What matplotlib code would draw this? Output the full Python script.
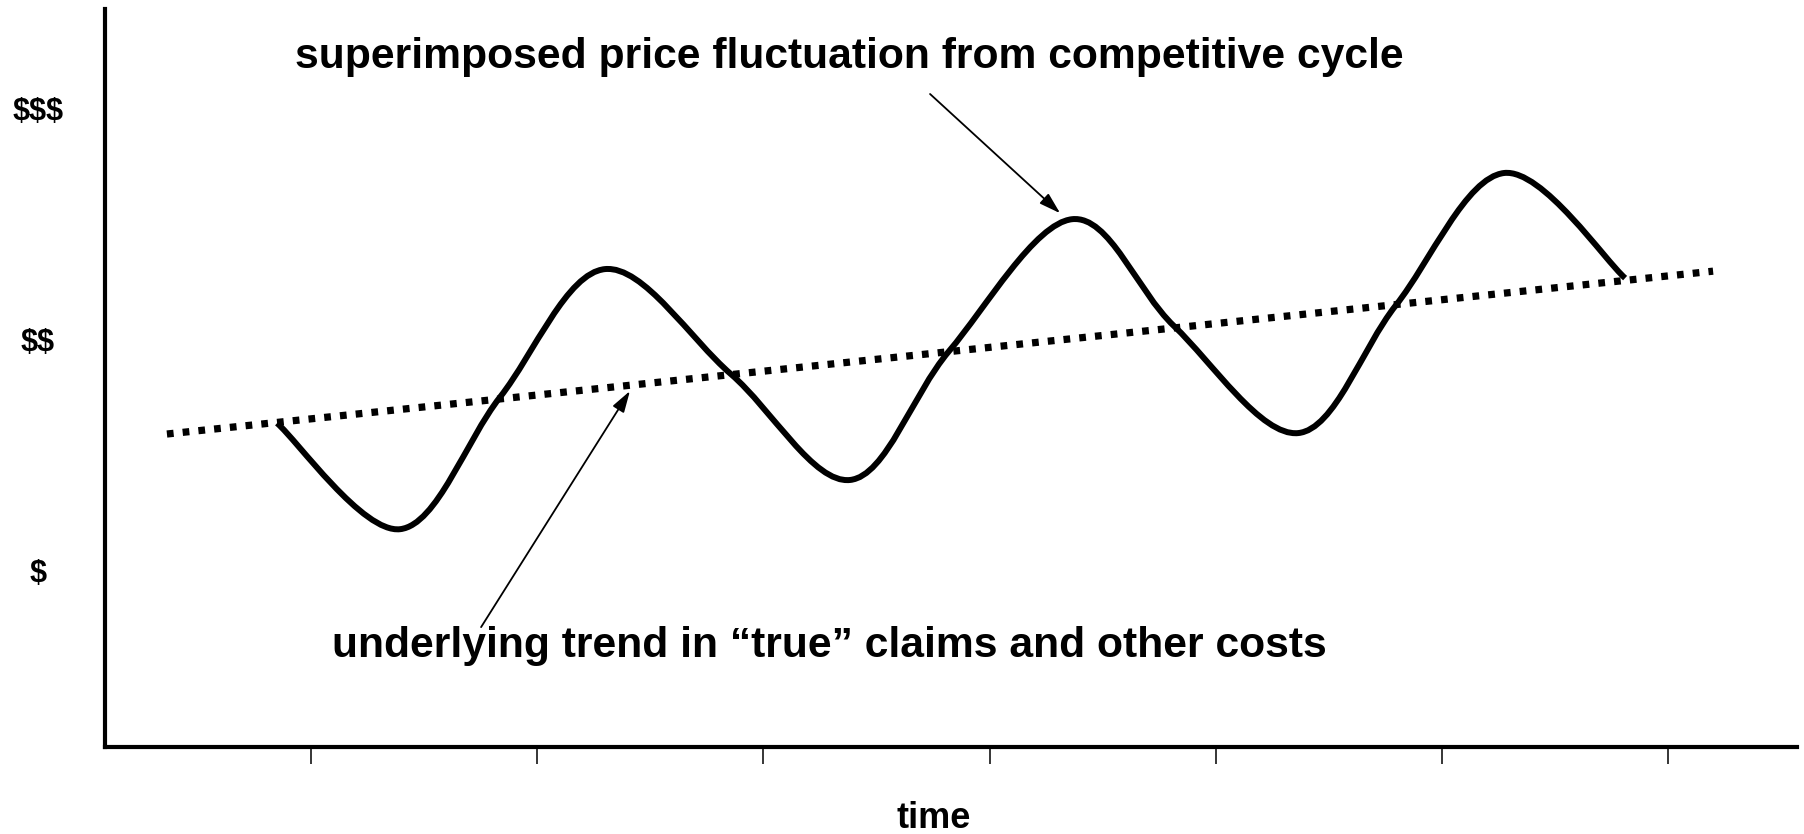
import matplotlib
matplotlib.use("Agg")
import matplotlib.pyplot as plt
import numpy as np
from matplotlib.path import Path
from matplotlib.patches import PathPatch

# ---- data ----
wave_x = [0.850, 1.394, 1.836, 2.300, 2.857, 3.383, 3.821, 4.365, 4.816, 5.364, 5.797, 6.275, 6.810]
wave_y = [1.636, 1.177, 1.749, 2.303, 1.848, 1.390, 1.948, 2.519, 2.056, 1.593, 2.147, 2.719, 2.264]
trend_x = [0.363, 7.199]
trend_y = [1.589, 2.294]
x_ticks = [1, 2, 3, 4, 5, 6, 7]
y_ticks = [1, 2, 3]
y_labels = ["$", "$$", "$$$"]
x_label = "time"
top_note = "superimposed price fluctuation from competitive cycle"
bottom_note = "underlying trend in \u201ctrue\u201d claims and other costs"

plt.rcParams['font.family'] = ['Liberation Sans', 'DejaVu Sans']
plt.rcParams['font.weight'] = 'bold'
plt.rcParams['text.parse_math'] = False

W, H = 1804, 834
fig = plt.figure(figsize=(W / 100, H / 100), dpi=100)
ax = fig.add_axes([104.5 / W, (H - 747) / H, (1797 - 104.5) / W, (747 - 9) / H])
ax.set_xlim(0.087, 7.570)
ax.set_ylim(0.234, 3.429)

for s in ['top', 'right']:
    ax.spines[s].set_visible(False)
for s in ['left', 'bottom']:
    ax.spines[s].set_linewidth(3)
    ax.spines[s].set_color('black')

ax.set_xticks(x_ticks)
ax.set_xticklabels([''] * len(x_ticks))
ax.tick_params(axis='x', direction='out', length=12.2, width=1.1, color='black')
ax.set_yticks(y_ticks)
ax.set_yticklabels(y_labels, fontsize=22, fontweight='bold')
ax.tick_params(axis='y', length=0, pad=48)
for lab in ax.get_yticklabels():
    lab.set_horizontalalignment('center')

ax.set_xlabel(x_label, fontsize=26, fontweight='bold')
ax.xaxis.label.set_verticalalignment('baseline')
ax.xaxis.set_label_coords(0.490, -0.110)

# trend (dotted, square dots)
ax.plot(trend_x, trend_y, color='black', lw=5.2, linestyle=(0, (0.93, 1.26)),
        dash_capstyle='butt', solid_capstyle='butt')

# smoothed wave through the data points (Catmull-Rom as cubic Bezier)
P = np.column_stack([wave_x, wave_y])
n = len(P)
verts = [tuple(P[0])]
codes = [Path.MOVETO]
for i in range(n - 1):
    p0 = P[i - 1] if i > 0 else P[i]
    p1 = P[i]
    p2 = P[i + 1]
    p3 = P[i + 2] if i + 2 < n else P[i + 1]
    c1 = p1 + (p2 - p0) / 6.0
    c2 = p2 - (p3 - p1) / 6.0
    verts += [tuple(c1), tuple(c2), tuple(p2)]
    codes += [Path.CURVE4] * 3
ax.add_patch(PathPatch(Path(verts, codes), fill=False, lw=4.3, edgecolor='black',
                       capstyle='butt', joinstyle='round', transform=ax.transData))

# annotations
arrow_kw = dict(arrowstyle='-|>,head_length=0.65,head_width=0.2', color='black',
                lw=1.3, shrinkA=0, shrinkB=0, mutation_scale=20)
ax.annotate('', xy=(4.312, 2.545), xytext=(3.737, 3.061), arrowprops=arrow_kw)
ax.annotate('', xy=(2.410, 1.775), xytext=(1.752, 0.753), arrowprops=arrow_kw)

ax.text(3.379, 3.173, top_note, fontsize=30.7, fontweight='bold', ha='center', va='baseline')
ax.text(3.290, 0.623, bottom_note, fontsize=30.7, fontweight='bold', ha='center', va='baseline')

fig.savefig('out.png', dpi=100, facecolor='white')
